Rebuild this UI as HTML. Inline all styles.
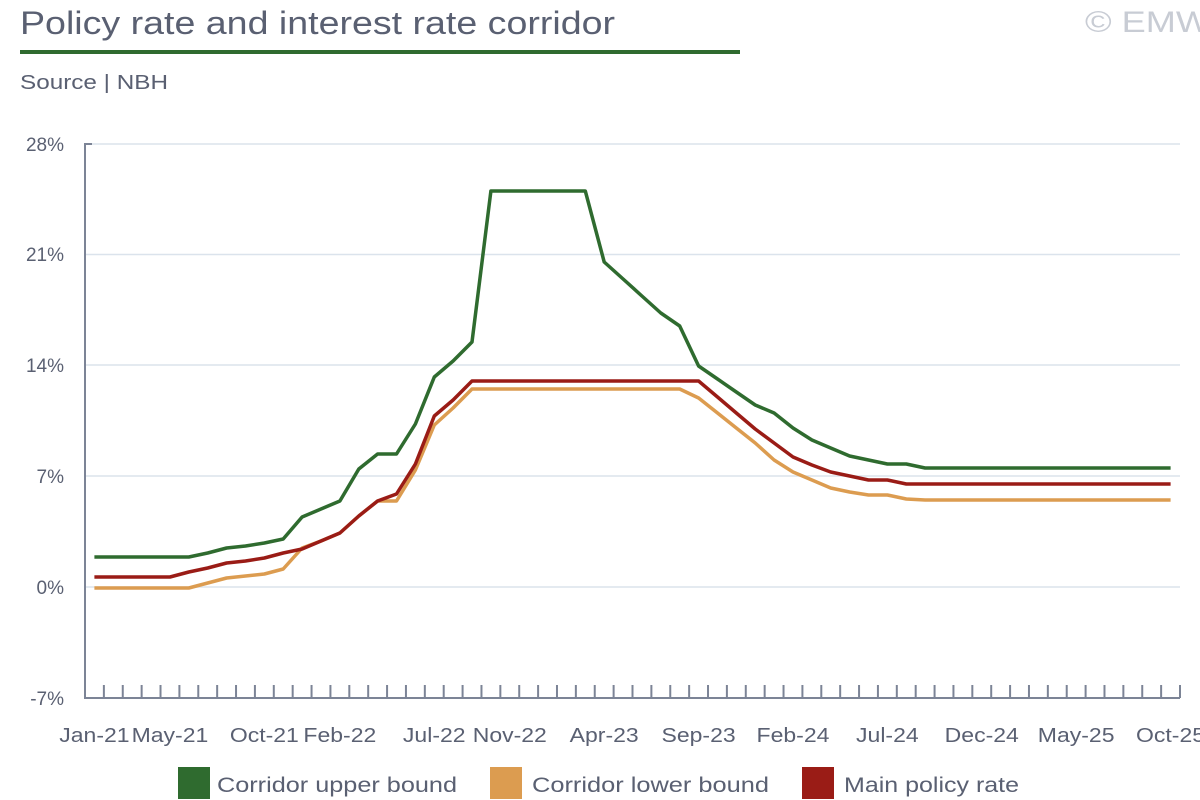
<!DOCTYPE html>
<html><head><meta charset="utf-8"><style>
body{margin:0;background:#fff;width:1200px;height:800px;overflow:hidden}
svg{display:block;font-family:"Liberation Sans",sans-serif}
</style></head><body>
<svg width="1200" height="800" viewBox="0 0 1200 800">
<text x="20" y="34" font-size="32" fill="#5a6072" textLength="595" lengthAdjust="spacingAndGlyphs">Policy rate and interest rate corridor</text>
<text x="1085" y="32" font-size="30" fill="#c8ccd4" textLength="125" lengthAdjust="spacingAndGlyphs">© EMW</text>
<rect x="20" y="50" width="720" height="4" fill="#2f6b2f"/>
<text x="20" y="89" font-size="20" fill="#5a6072" textLength="148" lengthAdjust="spacingAndGlyphs">Source | NBH</text>
<g stroke="#dbe3ec" stroke-width="1.5">
<line x1="85" y1="144" x2="1180" y2="144"/><line x1="85" y1="254.5" x2="1180" y2="254.5"/>
<line x1="85" y1="365" x2="1180" y2="365"/><line x1="85" y1="476" x2="1180" y2="476"/>
<line x1="85" y1="587" x2="1180" y2="587"/>
</g>
<g font-size="19" fill="#5a6072" text-anchor="end">
<text x="64" y="151">28%</text><text x="64" y="261">21%</text><text x="64" y="372">14%</text>
<text x="64" y="483">7%</text><text x="64" y="594">0%</text><text x="64" y="705">-7%</text>
</g>
<g stroke="#7c8496" stroke-width="2" fill="none">
<path d="M92 144H85V698H1180"/>
</g>
<g id="tk" stroke="#7c8496" stroke-width="2"></g>
<g font-size="20" fill="#5a6072" text-anchor="middle" id="xl"></g>
<g fill="none" stroke-width="3.5" stroke-linejoin="round">
<polyline id="lo" stroke="#dc9c50"/>
<polyline id="mn" stroke="#9a1c16"/>
<polyline id="up" stroke="#2f6b2f"/>
</g>
<rect x="178" y="767" width="32" height="32" fill="#2f6b2f"/>
<text x="217" y="792" font-size="21" fill="#5a6072" textLength="240" lengthAdjust="spacingAndGlyphs">Corridor upper bound</text>
<rect x="490" y="767" width="32" height="32" fill="#dc9c50"/>
<text x="532" y="792" font-size="21" fill="#5a6072" textLength="237" lengthAdjust="spacingAndGlyphs">Corridor lower bound</text>
<rect x="802" y="767" width="32" height="32" fill="#9a1c16"/>
<text x="844" y="792" font-size="21" fill="#5a6072" textLength="175" lengthAdjust="spacingAndGlyphs">Main policy rate</text>
</svg>
<script>
var w=(1180-85)/58,ns="http://www.w3.org/2000/svg";
var tk=document.getElementById('tk');
for(var k=1;k<=58;k++){var l=document.createElementNS(ns,'line');var x=85+k*w;l.setAttribute('x1',x);l.setAttribute('x2',x);l.setAttribute('y1',685);l.setAttribute('y2',698);tk.appendChild(l);}
var labs={0:'Jan-21',4:'May-21',9:'Oct-21',13:'Feb-22',18:'Jul-22',22:'Nov-22',27:'Apr-23',32:'Sep-23',37:'Feb-24',42:'Jul-24',47:'Dec-24',52:'May-25',57:'Oct-25'};
var xl=document.getElementById('xl');
for(var i in labs){var t=document.createElementNS(ns,'text');t.setAttribute('x',85+(+i+0.5)*w);t.setAttribute('y',742);t.textContent=labs[i];
xl.appendChild(t);var bw=t.getBBox().width;t.setAttribute('textLength',bw*1.15);t.setAttribute('lengthAdjust','spacingAndGlyphs');}
function fill(a){while(a.length<58)a.push(a[a.length-1]);return a;}
var up=fill([557,557,557,557,557,557,553,548,546,543,539,517,509,501,469,454,454,424,377,361,342,191,191,191,191,191,191,262,279,296,313,326,366,379,392,405,413,428,440,448,456,460,464,464,468]);
var lo=fill([588,588,588,588,588,588,583,578,576,574,569,548,541,533,516,501,501,470,425,408,389,389,389,389,389,389,389,389,389,389,389,389,398,413,428,443,460,472,480,488,492,495,495,499,500]);
var mn=fill([577,577,577,577,577,572,568,563,561,558,553,549,541,533,516,501,494,464,416,400,381,381,381,381,381,381,381,381,381,381,381,381,381,397,413,429,443,457,465,472,476,480,480,484]);
function pts(a){return a.map(function(y,i){return (85+(i+0.5)*w).toFixed(1)+','+y}).join(' ');}
document.getElementById('up').setAttribute('points',pts(up));
document.getElementById('lo').setAttribute('points',pts(lo));
document.getElementById('mn').setAttribute('points',pts(mn));
</script>
</body></html>
